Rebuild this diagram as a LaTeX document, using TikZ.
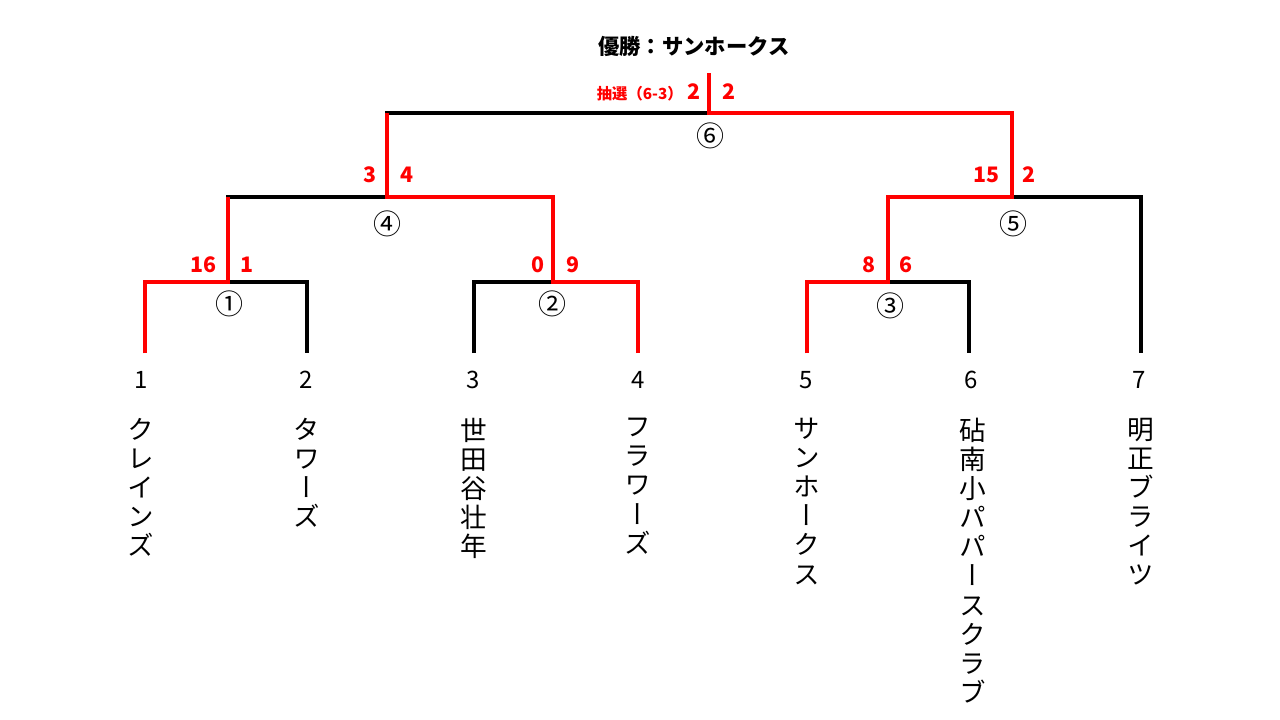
\documentclass[tikz,border=0pt]{standalone}
\usepackage{fontspec}
\setmainfont{Noto Sans CJK JP}
\newfontfamily\vfont{Noto Sans CJK JP}[RawFeature=+vert]
\begin{document}
\begin{tikzpicture}[x={(0.75pt,0)},y={(0,-0.75pt)},
  blk/.style={draw=black,line width=2.3pt},
  wred/.style={draw=red,line width=3pt,line join=miter},
  score/.style={text=red,font=\bfseries\fontsize{16}{16}\selectfont,inner sep=0pt},
  circ/.style={font=\fontsize{21}{21}\selectfont,inner sep=0pt},
  seed/.style={font=\fontsize{18}{18}\selectfont,inner sep=0pt},
  team/.style={anchor=north,align=center,inner sep=0pt,font=\vfont\fontsize{20}{21.8}\selectfont}]
\useasboundingbox (0,0) rectangle (1280,720);
% junctions
\coordinate (t1) at (145,353);
\coordinate (t2) at (307,353);
\coordinate (t3) at (474,353);
\coordinate (t4) at (638,353);
\coordinate (t5) at (807,353);
\coordinate (t6) at (969,353);
\coordinate (t7) at (1141,353);
\coordinate (m1) at (228,282);
\coordinate (m2) at (553,282);
\coordinate (m3) at (888,282);
\coordinate (m4) at (387,197);
\coordinate (m5) at (1012,197);
\coordinate (m6) at (709,113);
\coordinate (top) at (709,73);
% black bracket
\draw[blk] (t1) |- (m1) -| (t2);
\draw[blk] (t3) |- (m2) -| (t4);
\draw[blk] (t5) |- (m3) -| (t6);
\draw[blk] (m1) |- (m4) -| (m2);
\draw[blk] (m3) |- (m5) -| (t7);
\draw[blk] (m4) |- (m6) -| (m5);
% winners in red
\draw[wred] (t1) |- (m1) -- (m1 |- m4);
\draw[wred] (t4) |- (m2) -- (m2 |- m4) -- (m4) -- (m4 |- m6);
\draw[wred] (t5) |- (m3) -- (m3 |- m5) -- (m5) -- (m5 |- m6) -- (m6) -- (top);
% title
\node[font=\bfseries\fontsize{16}{16}\selectfont,inner sep=0pt] (title) at (694,46) {優勝：サンホークス};
% scores
\node[score,anchor=east] (s1l) at (217,265) {16};
\node[score,anchor=west] (s1r) at (240,265) {1};
\node[score,anchor=east] (s2l) at (545,265) {0};
\node[score,anchor=west] (s2r) at (566,265) {9};
\node[score,anchor=east] (s3l) at (876,265) {8};
\node[score,anchor=west] (s3r) at (899,265) {6};
\node[score,anchor=east] (s4l) at (377,175) {3};
\node[score,anchor=west] (s4r) at (400,175) {4};
\node[score,anchor=east] (s5l) at (1000,175) {15};
\node[score,anchor=west] (s5r) at (1022,175) {2};
\node[score,anchor=east] (s6l) at (701,92) {2};
\node[score,anchor=west] (s6r) at (722,92) {2};
\node[text=red,font=\bfseries\fontsize{11.5}{12}\selectfont,inner sep=0pt,anchor=east] (lot) at (683,94) {抽選（6-3）};
% match numbers
\node[circ] (c1) at (229,304) {①};
\node[circ] (c2) at (552,304) {②};
\node[circ] (c3) at (890,306) {③};
\node[circ] (c4) at (387,224) {④};
\node[circ] (c5) at (1013,224) {⑤};
\node[circ] (c6) at (710,136) {⑥};
% seeds
\node[seed] (n1) at (141,380) {1};
\node[seed] (n2) at (306,380) {2};
\node[seed] (n3) at (473,380) {3};
\node[seed] (n4) at (638,380) {4};
\node[seed] (n5) at (806,380) {5};
\node[seed] (n6) at (971,380) {6};
\node[seed] (n7) at (1139,380) {7};
% team names
\node[team] (T1) at (141,418) {ク\\レ\\イ\\ン\\ズ};
\node[team] (T2) at (307,418) {タ\\ワ\\ー\\ズ};
\node[team] (T3) at (474,418) {世\\田\\谷\\壮\\年};
\node[team] (T4) at (638,418) {フ\\ラ\\ワ\\ー\\ズ};
\node[team] (T5) at (807,418) {サ\\ン\\ホ\\ー\\ク\\ス};
\node[team] (T6) at (973,418) {砧\\南\\小\\パ\\パ\\ー\\ス\\ク\\ラ\\ブ};
\node[team] (T7) at (1141,418) {明\\正\\ブ\\ラ\\イ\\ツ};
\end{tikzpicture}
\end{document}
